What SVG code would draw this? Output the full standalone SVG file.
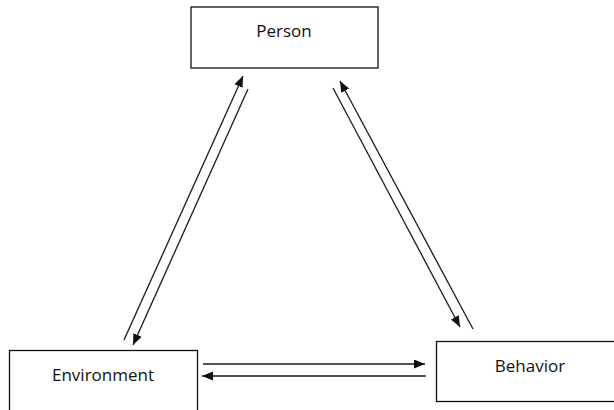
<svg xmlns="http://www.w3.org/2000/svg" width="614" height="410" viewBox="0 0 614 410">
  <style>
    .box { fill: #ffffff; stroke: #111111; stroke-width: 1.3; }
    .lbl { font-family: "Open Sans", "Liberation Sans", sans-serif; font-size: 17px; fill: #111111; text-anchor: middle; }
    .conn { stroke: #1a1a1a; stroke-width: 1.3; fill: none; }
    .arr { marker-end: url(#ah); }
  </style>
  <defs>
    <marker id="ah" markerUnits="userSpaceOnUse" markerWidth="12" markerHeight="10" refX="11" refY="4.5" orient="auto">
      <path d="M0,0 L11,4.5 L0,9 z" fill="#111111"/>
    </marker>
  </defs>
  <rect width="614" height="410" fill="#ffffff"/>
  <g id="person">
    <rect class="box" x="191" y="7" width="187" height="61"/>
    <text class="lbl" x="284" y="37">Person</text>
  </g>
  <g id="environment">
    <rect class="box" x="9.5" y="350.5" width="188" height="62"/>
    <text class="lbl" x="103" y="381">Environment</text>
  </g>
  <g id="behavior">
    <rect class="box" x="436.5" y="341.5" width="190" height="60"/>
    <text class="lbl" x="530" y="372">Behavior</text>
  </g>
  <g id="connectors">
    <line class="conn arr" x1="124" y1="340" x2="243" y2="76"/>
    <line class="conn arr" x1="248" y1="89" x2="133" y2="345"/>
    <line class="conn arr" x1="333" y1="88" x2="460" y2="327"/>
    <line class="conn arr" x1="473" y1="329" x2="340" y2="81"/>
    <line class="conn arr" x1="203" y1="364" x2="425" y2="364"/>
    <line class="conn arr" x1="426" y1="376" x2="202" y2="376"/>
  </g>
</svg>
